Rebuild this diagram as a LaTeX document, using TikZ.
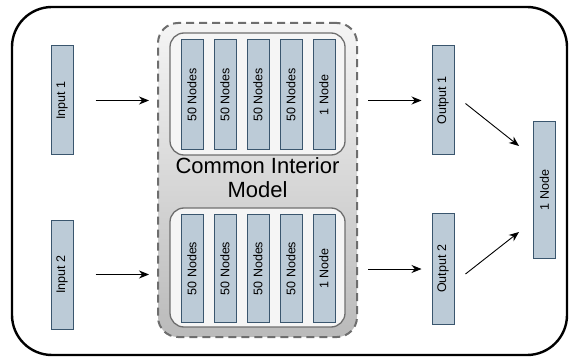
\documentclass[tikz,border=0pt]{standalone}
\usepackage{fontspec}
\setmainfont{Liberation Sans}
\usepackage{graphicx}
\usetikzlibrary{arrows.meta}
\definecolor{barfill}{HTML}{BCCBD7}
\definecolor{barline}{HTML}{3A566E}
\definecolor{cimline}{HTML}{6E6E6E}
\tikzset{
  bar/.style={draw=barline,fill=barfill,line width=1pt,minimum width=22pt,inner sep=0pt,font=\fontsize{12.5}{14}\selectfont},
  arr/.style={-{Stealth[length=10pt,width=8pt]},line width=0.9pt},
  layer/.style={draw=cimline,fill=black!4,line width=1.3pt,rounded corners=14pt,minimum width=175pt}
}
\begin{document}
\begin{tikzpicture}[x=1pt,y=-1pt]
\useasboundingbox (0,0) rectangle (570,358);
\node[draw,line width=2.4pt,rounded corners=40pt,minimum width=555pt,minimum height=348pt](frame)at(289.5,181){};
\node[draw=cimline,dashed,dash pattern=on 8pt off 5pt,line width=2pt,rounded corners=20pt,
  top color=black!4,bottom color=black!27,minimum width=199pt,minimum height=314pt](cim)at(257.5,180){};
\node[layer,minimum height=122pt](upper)at(257.5,94){};
\node[layer,minimum height=119pt](lower)at(257.5,267.5){};
\node[align=center,font=\fontsize{22}{24}\selectfont](title)at(257.5,178){Common Interior\\Model};
% hidden layers
\foreach \i/\x in {1/192,2/225,3/258,4/291}{
  \node[bar,minimum height=110pt](u\i)at(\x,95){\rotatebox{90}{50 Nodes}};
  \node[bar,minimum height=107pt](l\i)at(\x,268.5){\rotatebox{90}{50 Nodes}};
}
\node[bar,minimum height=110pt](u5)at(324,95){\rotatebox{90}{1 Node}};
\node[bar,minimum height=107pt](l5)at(324,268.5){\rotatebox{90}{1 Node}};
% inputs and outputs
\node[bar,minimum height=109pt](in1)at(62,100.5){\rotatebox{90}{Input 1}};
\node[bar,minimum height=109pt](in2)at(62,274.5){\rotatebox{90}{Input 2}};
\node[bar,minimum height=109pt](out1)at(443,100.5){\rotatebox{90}{Output 1}};
\node[bar,minimum height=110pt](out2)at(443,269){\rotatebox{90}{Output 2}};
\node[bar,minimum height=136pt](final)at(544.5,190){\rotatebox{90}{1 Node}};
\draw[arr,shorten <=22pt,shorten >=8pt](in1)--(in1-|cim.west);
\draw[arr,shorten <=22pt,shorten >=8pt](in2.east)--(in2-|cim.west);
\draw[arr,shorten <=10pt,shorten >=10pt](cim.east|-out1)--(out1);
\draw[arr,shorten <=10pt,shorten >=10pt](cim.east|-out2)--(out2);
\draw[arr]([xshift=11pt,yshift=-3pt]out1.east)--([xshift=-14pt,yshift=44pt]final.west);
\draw[arr]([xshift=11pt,yshift=-5pt]out2.east)--([xshift=-14pt,yshift=-42pt]final.west);
\end{tikzpicture}
\end{document}
